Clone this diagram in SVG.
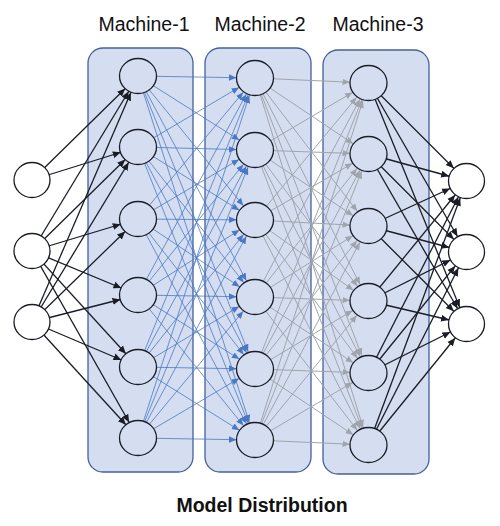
<svg xmlns="http://www.w3.org/2000/svg" width="500" height="526" viewBox="0 0 500 526">
<style>
.panel{fill:#D5DDF0;stroke:#44619A;stroke-width:1.3}
.title{font-family:"Liberation Sans",Arial,sans-serif;font-size:19.5px;fill:#111;text-anchor:middle}
.cap{font-family:"Liberation Sans",Arial,sans-serif;font-size:19.5px;font-weight:bold;fill:#111;text-anchor:middle}
.k{stroke:#1A1D26;stroke-width:1.3;marker-end:url(#ak)}
.b{stroke:#4A78C4;stroke-width:0.8;marker-end:url(#ab)}
.g{stroke:#A0A4AC;stroke-width:1;marker-end:url(#ag)}
.nw{fill:#FFFFFF;stroke:#1A1D26;stroke-width:1.3}
.np{fill:#D5DDF0;stroke:#1A1D26;stroke-width:1.3}
</style>
<defs>
<marker id="ak" markerUnits="userSpaceOnUse" viewBox="0 -4 26 8" refX="26" refY="0" markerWidth="26" markerHeight="8" orient="auto"><path d="M0,-3.5 L8,0 L0,3.5 z" fill="#1A1D26"/></marker>
<marker id="ab" markerUnits="userSpaceOnUse" viewBox="0 -4 26 8" refX="26" refY="0" markerWidth="26" markerHeight="8" orient="auto"><path d="M0,-3.2 L7.5,0 L0,3.2 z" fill="#4A78C4"/></marker>
<marker id="ag" markerUnits="userSpaceOnUse" viewBox="0 -4 26 8" refX="26" refY="0" markerWidth="26" markerHeight="8" orient="auto"><path d="M0,-3.2 L7.5,0 L0,3.2 z" fill="#A0A4AC"/></marker>
</defs>
<rect width="500" height="526" fill="#FFFFFF"/>
<g id="panels">
<rect id="machine-1" class="panel" x="88" y="48" width="105" height="424" rx="15"/>
<rect id="machine-2" class="panel" x="205" y="48" width="106" height="424" rx="15"/>
<rect id="machine-3" class="panel" x="323" y="50" width="106" height="424" rx="15"/>
</g>
<g id="titles">
<text class="title" x="144" y="31">Machine-1</text>
<text class="title" x="260" y="31">Machine-2</text>
<text class="title" x="378" y="31">Machine-3</text>
<text class="cap" x="262" y="512">Model Distribution</text>
</g>
<g id="connectors">
<g id="in-m1">
<line class="k" x1="32" y1="180" x2="138" y2="76"/><line class="k" x1="32" y1="180" x2="138" y2="147"/>
<line class="k" x1="32" y1="251" x2="138" y2="76"/><line class="k" x1="32" y1="251" x2="138" y2="147"/><line class="k" x1="32" y1="251" x2="138" y2="219"/><line class="k" x1="32" y1="251" x2="138" y2="295"/><line class="k" x1="32" y1="251" x2="138" y2="367"/><line class="k" x1="32" y1="251" x2="138" y2="438"/>
<line class="k" x1="32" y1="322" x2="138" y2="76"/><line class="k" x1="32" y1="322" x2="138" y2="147"/><line class="k" x1="32" y1="322" x2="138" y2="219"/><line class="k" x1="32" y1="322" x2="138" y2="295"/><line class="k" x1="32" y1="322" x2="138" y2="367"/><line class="k" x1="32" y1="322" x2="138" y2="438"/>
</g>
<g id="m1-m2">
<line class="b" x1="138" y1="76" x2="255" y2="78"/><line class="b" x1="138" y1="76" x2="255" y2="150"/><line class="b" x1="138" y1="76" x2="255" y2="220"/><line class="b" x1="138" y1="76" x2="255" y2="297"/><line class="b" x1="138" y1="76" x2="255" y2="369"/><line class="b" x1="138" y1="76" x2="255" y2="440"/>
<line class="b" x1="138" y1="147" x2="255" y2="78"/><line class="b" x1="138" y1="147" x2="255" y2="150"/><line class="b" x1="138" y1="147" x2="255" y2="220"/><line class="b" x1="138" y1="147" x2="255" y2="297"/><line class="b" x1="138" y1="147" x2="255" y2="369"/><line class="b" x1="138" y1="147" x2="255" y2="440"/>
<line class="b" x1="138" y1="219" x2="255" y2="78"/><line class="b" x1="138" y1="219" x2="255" y2="150"/><line class="b" x1="138" y1="219" x2="255" y2="220"/><line class="b" x1="138" y1="219" x2="255" y2="297"/><line class="b" x1="138" y1="219" x2="255" y2="369"/><line class="b" x1="138" y1="219" x2="255" y2="440"/>
<line class="b" x1="138" y1="295" x2="255" y2="78"/><line class="b" x1="138" y1="295" x2="255" y2="150"/><line class="b" x1="138" y1="295" x2="255" y2="220"/><line class="b" x1="138" y1="295" x2="255" y2="297"/><line class="b" x1="138" y1="295" x2="255" y2="369"/><line class="b" x1="138" y1="295" x2="255" y2="440"/>
<line class="b" x1="138" y1="367" x2="255" y2="78"/><line class="b" x1="138" y1="367" x2="255" y2="150"/><line class="b" x1="138" y1="367" x2="255" y2="220"/><line class="b" x1="138" y1="367" x2="255" y2="297"/><line class="b" x1="138" y1="367" x2="255" y2="369"/><line class="b" x1="138" y1="367" x2="255" y2="440"/>
<line class="b" x1="138" y1="438" x2="255" y2="78"/><line class="b" x1="138" y1="438" x2="255" y2="150"/><line class="b" x1="138" y1="438" x2="255" y2="220"/><line class="b" x1="138" y1="438" x2="255" y2="297"/><line class="b" x1="138" y1="438" x2="255" y2="369"/><line class="b" x1="138" y1="438" x2="255" y2="440"/>
</g>
<g id="m2-m3">
<line class="g" x1="255" y1="78" x2="368.5" y2="83"/><line class="g" x1="255" y1="78" x2="368.5" y2="154"/><line class="g" x1="255" y1="78" x2="368.5" y2="226"/><line class="g" x1="255" y1="78" x2="368.5" y2="301"/><line class="g" x1="255" y1="78" x2="368.5" y2="373"/><line class="g" x1="255" y1="78" x2="368.5" y2="445"/>
<line class="g" x1="255" y1="150" x2="368.5" y2="83"/><line class="g" x1="255" y1="150" x2="368.5" y2="154"/><line class="g" x1="255" y1="150" x2="368.5" y2="226"/><line class="g" x1="255" y1="150" x2="368.5" y2="301"/><line class="g" x1="255" y1="150" x2="368.5" y2="373"/><line class="g" x1="255" y1="150" x2="368.5" y2="445"/>
<line class="g" x1="255" y1="220" x2="368.5" y2="83"/><line class="g" x1="255" y1="220" x2="368.5" y2="154"/><line class="g" x1="255" y1="220" x2="368.5" y2="226"/><line class="g" x1="255" y1="220" x2="368.5" y2="301"/><line class="g" x1="255" y1="220" x2="368.5" y2="373"/><line class="g" x1="255" y1="220" x2="368.5" y2="445"/>
<line class="g" x1="255" y1="297" x2="368.5" y2="83"/><line class="g" x1="255" y1="297" x2="368.5" y2="154"/><line class="g" x1="255" y1="297" x2="368.5" y2="226"/><line class="g" x1="255" y1="297" x2="368.5" y2="301"/><line class="g" x1="255" y1="297" x2="368.5" y2="373"/><line class="g" x1="255" y1="297" x2="368.5" y2="445"/>
<line class="g" x1="255" y1="369" x2="368.5" y2="83"/><line class="g" x1="255" y1="369" x2="368.5" y2="154"/><line class="g" x1="255" y1="369" x2="368.5" y2="226"/><line class="g" x1="255" y1="369" x2="368.5" y2="301"/><line class="g" x1="255" y1="369" x2="368.5" y2="373"/><line class="g" x1="255" y1="369" x2="368.5" y2="445"/>
<line class="g" x1="255" y1="440" x2="368.5" y2="83"/><line class="g" x1="255" y1="440" x2="368.5" y2="154"/><line class="g" x1="255" y1="440" x2="368.5" y2="226"/><line class="g" x1="255" y1="440" x2="368.5" y2="301"/><line class="g" x1="255" y1="440" x2="368.5" y2="373"/><line class="g" x1="255" y1="440" x2="368.5" y2="445"/>
</g>
<g id="m3-out">
<line class="k" x1="368.5" y1="83" x2="466.5" y2="181"/><line class="k" x1="368.5" y1="83" x2="466.5" y2="252"/><line class="k" x1="368.5" y1="83" x2="466.5" y2="324"/>
<line class="k" x1="368.5" y1="154" x2="466.5" y2="181"/><line class="k" x1="368.5" y1="154" x2="466.5" y2="252"/><line class="k" x1="368.5" y1="154" x2="466.5" y2="324"/>
<line class="k" x1="368.5" y1="226" x2="466.5" y2="181"/><line class="k" x1="368.5" y1="226" x2="466.5" y2="252"/><line class="k" x1="368.5" y1="226" x2="466.5" y2="324"/>
<line class="k" x1="368.5" y1="301" x2="466.5" y2="181"/><line class="k" x1="368.5" y1="301" x2="466.5" y2="252"/><line class="k" x1="368.5" y1="301" x2="466.5" y2="324"/>
<line class="k" x1="368.5" y1="373" x2="466.5" y2="181"/><line class="k" x1="368.5" y1="373" x2="466.5" y2="252"/><line class="k" x1="368.5" y1="373" x2="466.5" y2="324"/>
<line class="k" x1="368.5" y1="445" x2="466.5" y2="181"/><line class="k" x1="368.5" y1="445" x2="466.5" y2="252"/><line class="k" x1="368.5" y1="445" x2="466.5" y2="324"/>
</g>
</g>
<g id="in-1"><ellipse class="nw" cx="32" cy="180" rx="18" ry="17.5"/></g>
<g id="in-2"><ellipse class="nw" cx="32" cy="251" rx="18" ry="17.5"/></g>
<g id="in-3"><ellipse class="nw" cx="32" cy="322" rx="18" ry="17.5"/></g>
<g id="m1-1"><ellipse class="np" cx="138" cy="76" rx="18.5" ry="17.5"/></g>
<g id="m1-2"><ellipse class="np" cx="138" cy="147" rx="18.5" ry="17.5"/></g>
<g id="m1-3"><ellipse class="np" cx="138" cy="219" rx="18.5" ry="17.5"/></g>
<g id="m1-4"><ellipse class="np" cx="138" cy="295" rx="18.5" ry="17.5"/></g>
<g id="m1-5"><ellipse class="np" cx="138" cy="367" rx="18.5" ry="17.5"/></g>
<g id="m1-6"><ellipse class="np" cx="138" cy="438" rx="18.5" ry="17.5"/></g>
<g id="m2-1"><ellipse class="np" cx="255" cy="78" rx="18.5" ry="17.5"/></g>
<g id="m2-2"><ellipse class="np" cx="255" cy="150" rx="18.5" ry="17.5"/></g>
<g id="m2-3"><ellipse class="np" cx="255" cy="220" rx="18.5" ry="17.5"/></g>
<g id="m2-4"><ellipse class="np" cx="255" cy="297" rx="18.5" ry="17.5"/></g>
<g id="m2-5"><ellipse class="np" cx="255" cy="369" rx="18.5" ry="17.5"/></g>
<g id="m2-6"><ellipse class="np" cx="255" cy="440" rx="18.5" ry="17.5"/></g>
<g id="m3-1"><ellipse class="np" cx="368.5" cy="83" rx="18.5" ry="17.5"/></g>
<g id="m3-2"><ellipse class="np" cx="368.5" cy="154" rx="18.5" ry="17.5"/></g>
<g id="m3-3"><ellipse class="np" cx="368.5" cy="226" rx="18.5" ry="17.5"/></g>
<g id="m3-4"><ellipse class="np" cx="368.5" cy="301" rx="18.5" ry="17.5"/></g>
<g id="m3-5"><ellipse class="np" cx="368.5" cy="373" rx="18.5" ry="17.5"/></g>
<g id="m3-6"><ellipse class="np" cx="368.5" cy="445" rx="18.5" ry="17.5"/></g>
<g id="out-1"><ellipse class="nw" cx="466.5" cy="181" rx="18" ry="17.5"/></g>
<g id="out-2"><ellipse class="nw" cx="466.5" cy="252" rx="18" ry="17.5"/></g>
<g id="out-3"><ellipse class="nw" cx="466.5" cy="324" rx="18" ry="17.5"/></g>
</svg>
